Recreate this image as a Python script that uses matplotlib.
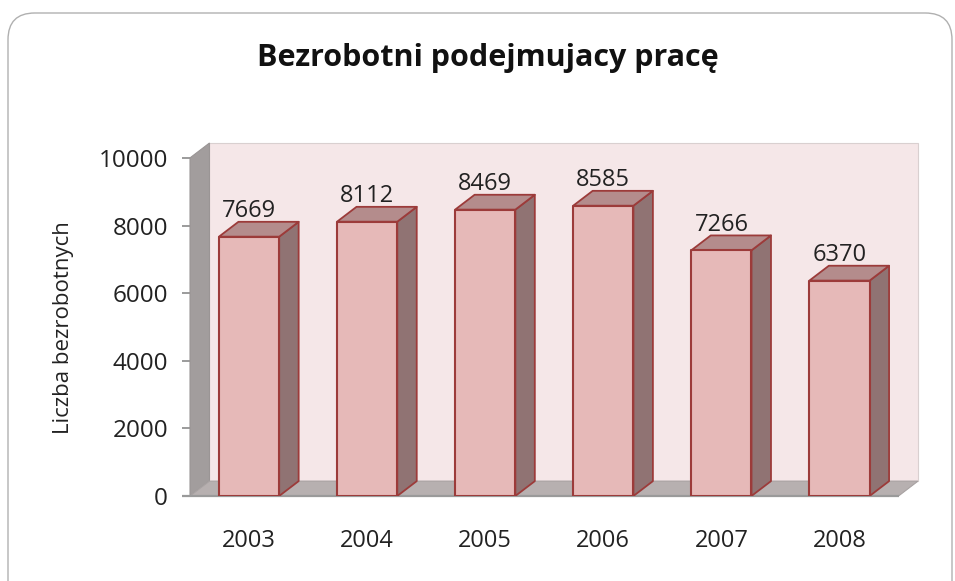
import matplotlib
matplotlib.use("Agg")
import matplotlib.pyplot as plt
from matplotlib.patches import Polygon, Rectangle, FancyBboxPatch

years = ["2003", "2004", "2005", "2006", "2007", "2008"]
values = [7669, 8112, 8469, 8585, 7266, 6370]
yticks = [0, 2000, 4000, 6000, 8000, 10000]
title = "Bezrobotni podejmujacy pracę"
ylabel = "Liczba bezrobotnych"

FONT = ["Open Sans", "DejaVu Sans"]
plt.rcParams["font.family"] = FONT

fig = plt.figure(figsize=(9.55, 5.81), dpi=100)

# outer rounded border
border = FancyBboxPatch((8 / 955, -0.05), 944 / 955, (581 - 13) / 581 + 0.05,
                        boxstyle="round,pad=0,rounding_size=0.028",
                        transform=fig.transFigure, facecolor="none",
                        edgecolor="#b0b0b0", linewidth=1.0, mutation_aspect=955 / 581, zorder=-5)
fig.patches.append(border)

ax = fig.add_axes([190 / 955, (581 - 496) / 581, 728 / 955, 353 / 581])
ymax = 10000
dx = 0.165      # depth offset in category units
dy = 440        # depth offset in value units
w = 0.51
xmin, xmax = -0.5, len(years) - 0.5
ax.set_xlim(xmin, xmax + dx)
ax.set_ylim(0, ymax + dy)
for s in ax.spines.values():
    s.set_visible(False)
ax.patch.set_visible(False)

# back wall
ax.add_patch(Polygon([(xmin + dx, dy), (xmax + dx, dy), (xmax + dx, ymax + dy), (xmin + dx, ymax + dy)],
                     closed=True, facecolor="#f5e7e8", edgecolor="#d9d0d0", linewidth=0.8, zorder=1, clip_on=False))
# side wall
ax.add_patch(Polygon([(xmin, 0), (xmin, ymax), (xmin + dx, ymax + dy), (xmin + dx, dy)],
                     closed=True, facecolor="#a29d9d", edgecolor="#9a9595", linewidth=0.8, zorder=2, clip_on=False))
# floor
ax.add_patch(Polygon([(xmin, 0), (xmax, 0), (xmax + dx, dy), (xmin + dx, dy)],
                     closed=True, facecolor="#b7b0b0", edgecolor="#a8a2a2", linewidth=0.8, zorder=2, clip_on=False))
ax.plot([xmin - 0.07, xmax], [0, 0], color="#9a9a9a", linewidth=1.6, zorder=3, clip_on=False,
        solid_capstyle="butt")

edge = "#9c3b3a"
for i, v in enumerate(values):
    x0, x1 = i - w / 2, i + w / 2
    # side face
    ax.add_patch(Polygon([(x1, 0), (x1 + dx, dy), (x1 + dx, v + dy), (x1, v)], closed=True,
                         facecolor="#907373", edgecolor=edge, linewidth=1.3, zorder=4, joinstyle="round"))
    # top face
    ax.add_patch(Polygon([(x0, v), (x1, v), (x1 + dx, v + dy), (x0 + dx, v + dy)], closed=True,
                         facecolor="#b48c8c", edgecolor=edge, linewidth=1.3, zorder=4, joinstyle="round"))
    # front face
    ax.add_patch(Rectangle((x0, 0), w, v, facecolor="#e6b9b8", edgecolor=edge, linewidth=1.5, zorder=5,
                           joinstyle="round"))
    ax.text(i, v + dy - 40, f"{v}", ha="center", va="bottom", fontsize=17, color="#222222", zorder=6)

ax.set_yticks(yticks)
ax.set_yticklabels([str(t) for t in yticks], fontsize=17.5, color="#222222")
ax.set_xticks(range(len(years)))
ax.set_xticklabels(years, fontsize=17, color="#222222")
ax.tick_params(axis="y", length=5.8, width=1.2, color="#8a8a8a", pad=10)
ax.tick_params(axis="x", length=0, pad=24)

ax.set_ylabel(ylabel, fontsize=16, color="#222222")
ax.yaxis.set_label_coords(-(190 - 74) / 728, (496 - 328) / 353)

fig.text(488 / 955, 1 - 58 / 581, title, ha="center", va="center", fontsize=22, fontweight="bold",
         color="#111111")

fig.savefig("out.png", dpi=100)
